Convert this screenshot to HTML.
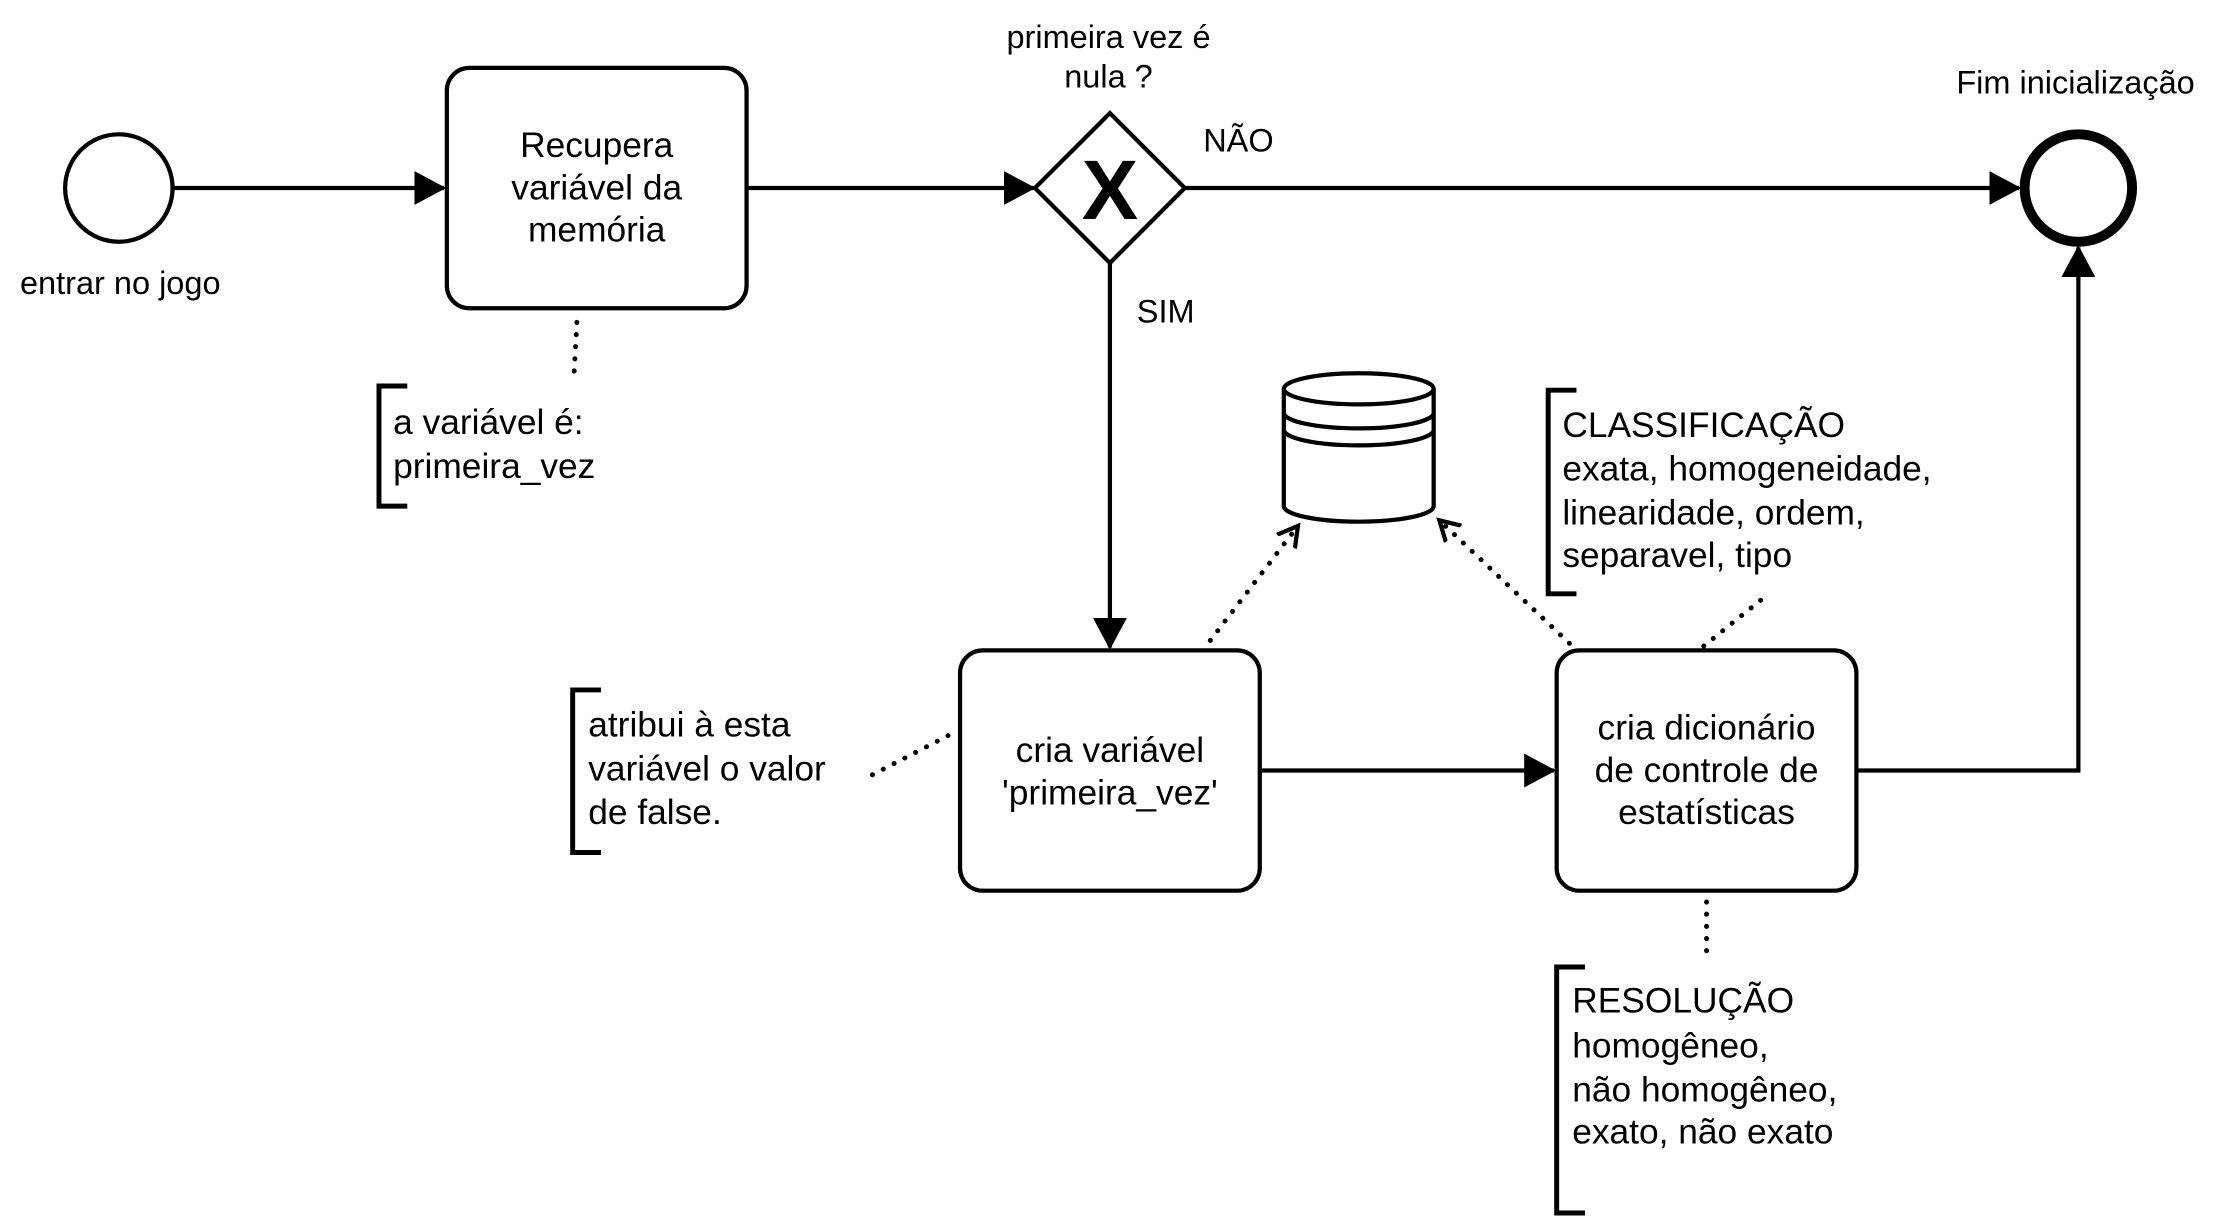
<!DOCTYPE html>
<html><head><meta charset="utf-8"><style>html,body{margin:0;padding:0;background:#fff}svg{display:block}text{font-family:"Liberation Sans",Arial,sans-serif}</style></head>
<body>
<svg width="2217" height="1230" viewBox="0 0 1568 870" xmlns="http://www.w3.org/2000/svg" style="font-family:'Liberation Sans',sans-serif" fill="none" stroke="#000">
<defs>
<marker id="a" markerWidth="8" markerHeight="8" refX="7" refY="4" orient="auto" markerUnits="strokeWidth"><path d="M0,0 L7.5,4 L0,8 Z" fill="#000" stroke="none"/></marker>
<marker id="o" markerWidth="20" markerHeight="20" refX="14" refY="10" orient="auto" markerUnits="userSpaceOnUse" viewBox="0 0 20 20"><path d="M0,2 L14,10 L0,18" fill="none" stroke="#000" stroke-width="3"/></marker>
</defs>
<rect width="1568" height="870" fill="#fff" stroke="none"/>
<circle cx="84" cy="133" r="38" stroke-width="3"/>
<rect x="316" y="48" width="212" height="170" rx="16" stroke-width="3"/>
<line x1="123" y1="133" x2="314" y2="133" stroke-width="3" marker-end="url(#a)"/>
<line x1="529" y1="133" x2="731" y2="133" stroke-width="3" marker-end="url(#a)"/>
<path d="M785,80 L838,133 L785,186 L732,133 Z" stroke-width="3" fill="#fff"/>
<text x="785" y="155" text-anchor="middle" font-size="60" font-weight="bold" fill="#000" stroke="none">X</text>
<line x1="838" y1="133" x2="1428" y2="133" stroke-width="3" marker-end="url(#a)"/>
<circle cx="1470" cy="133" r="38" stroke-width="7"/>
<line x1="785" y1="186" x2="785" y2="458" stroke-width="3" marker-end="url(#a)"/>
<rect x="679" y="460" width="212" height="170" rx="16" stroke-width="3"/>
<rect x="1101" y="460" width="212" height="170" rx="16" stroke-width="3"/>
<line x1="891" y1="545" x2="1099" y2="545" stroke-width="3" marker-end="url(#a)"/>
<polyline points="1313,545 1470,545 1470,175" stroke-width="3" marker-end="url(#a)"/>
<path d="M908,275 L908,358 A53,11 0 0 0 1014,358 L1014,275" stroke-width="3" fill="#fff"/>
<ellipse cx="961" cy="275" rx="53" ry="11" stroke-width="3" fill="#fff"/>
<path d="M908,292 A53,11 0 0 0 1014,292 M908,304 A53,11 0 0 0 1014,304" stroke-width="3"/>
<g stroke-width="3.5" stroke-linecap="round" stroke-dasharray="0.1 8.5">
<line x1="856" y1="453" x2="918" y2="372" marker-end="url(#o)"/>
<line x1="1110" y1="455" x2="1018" y2="368" marker-end="url(#o)"/>
<line x1="408" y1="228" x2="406" y2="264"/>
<line x1="617" y1="548" x2="675" y2="518"/>
<line x1="1205" y1="457" x2="1246" y2="424"/>
<line x1="1207" y1="638" x2="1207" y2="680"/>
</g>
<g stroke-width="3.5">
<polyline points="288,273 268,273 268,358 288,358"/>
<polyline points="425,488 405,488 405,603 425,603"/>
<polyline points="1115,276 1095,276 1095,420 1115,420"/>
<polyline points="1121,684 1101,684 1101,858 1121,858"/>
</g>
<g fill="#000" stroke="none" font-size="25">
<g text-anchor="middle">
<text x="422" y="111">Recupera</text><text x="422" y="141">variável da</text><text x="422" y="171">memória</text>
<text x="785" y="539">cria variável</text><text x="785" y="569">'primeira_vez'</text>
<text x="1207" y="523">cria dicionário</text><text x="1207" y="553">de controle de</text><text x="1207" y="583">estatísticas</text>
</g>
<g font-size="23" text-anchor="middle">
<text x="85" y="208">entrar no jogo</text>
<text x="784" y="34">primeira vez é</text><text x="784" y="62">nula ?</text>
<text x="1468" y="66">Fim inicialização</text>
</g>
<text x="851" y="107" font-size="23">NÃO</text>
<text x="804" y="228" font-size="23">SIM</text>
<text x="278" y="307">a variável é:</text><text x="278" y="338">primeira_vez</text>
<text x="416" y="521">atribui à esta</text><text x="416" y="552">variável o valor</text><text x="416" y="583">de false.</text>
<text x="1105" y="309">CLASSIFICAÇÃO</text><text x="1105" y="340">exata, homogeneidade,</text><text x="1105" y="371">linearidade, ordem,</text><text x="1105" y="401">separavel, tipo</text>
<text x="1112" y="716">RESOLUÇÃO</text><text x="1112" y="748">homogêneo,</text><text x="1112" y="779">não homogêneo,</text><text x="1112" y="809">exato, não exato</text>
</g>
</svg>
</body></html>
